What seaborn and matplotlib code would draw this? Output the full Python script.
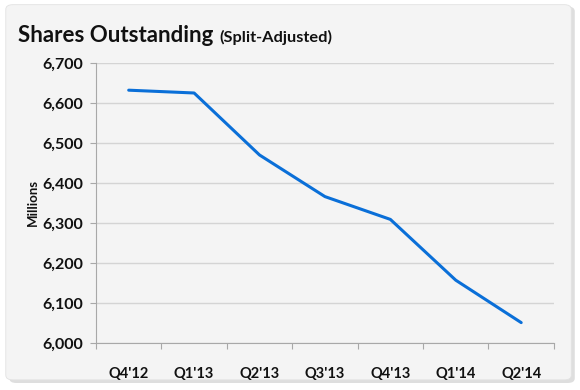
import matplotlib
matplotlib.use('Agg')
import matplotlib.pyplot as plt
from matplotlib.patches import FancyBboxPatch
from matplotlib.ticker import FuncFormatter, FixedLocator
import seaborn as sns
import pandas as pd

# ─── DATA ─────────────────────────────────────────────────────────────────────
quarters = ["Q4'12", "Q1'13", "Q2'13", "Q3'13", "Q4'13", "Q1'14", "Q2'14"]
shares_mm = [6632, 6625, 6470, 6366, 6309, 6157, 6051]
y_ticks = [6000, 6100, 6200, 6300, 6400, 6500, 6600, 6700]

df = pd.DataFrame({'quarter': quarters, 'shares': shares_mm})

# ─── STYLE ────────────────────────────────────────────────────────────────────
sns.set_style('white')
plt.rcParams['font.family'] = ['Lato', 'DejaVu Sans']
LINE_BLUE = '#0a6fd8'
GRID = '#d4d4d4'
PANEL = '#f4f4f4'
AXIS_GREY = '#a8a8a8'

fig = plt.figure(figsize=(5.8, 3.9), dpi=100)
fig.patch.set_facecolor('white')

# rounded panel with a soft shadow
shadow = FancyBboxPatch((0.016, 0.018), 0.975, 0.965,
                        boxstyle='round,pad=0,rounding_size=0.012',
                        transform=fig.transFigure, facecolor='#c8c8c8',
                        edgecolor='none', alpha=0.6, zorder=0)
panel = FancyBboxPatch((0.01, 0.026), 0.975, 0.962,
                       boxstyle='round,pad=0,rounding_size=0.012',
                       transform=fig.transFigure, facecolor=PANEL,
                       edgecolor='#e2e2e2', linewidth=0.6, zorder=1)
fig.patches.extend([shadow, panel])

ax = fig.add_axes([0.1655, 0.1205, 0.7895, 0.718])
ax.set_facecolor('none')
ax.set_zorder(2)

sns.lineplot(data=df, x='quarter', y='shares', color=LINE_BLUE,
             linewidth=2.2, sort=False, ax=ax)

ax.set_xlim(-0.5, len(quarters) - 0.5)
ax.set_ylim(y_ticks[0], y_ticks[-1])
ax.set_yticks(y_ticks)
ax.yaxis.set_major_formatter(FuncFormatter(lambda v, _: f'{int(v):,}'))
ax.grid(axis='y', color=GRID, linewidth=1.0)
ax.set_axisbelow(True)

# Excel-style ticks: labels centred, tick marks on category boundaries
ax.set_xticks(range(len(quarters)))
ax.set_xticklabels(quarters)
ax.xaxis.set_minor_locator(FixedLocator([i - 0.5 for i in range(len(quarters) + 1)]))
ax.tick_params(axis='x', which='major', length=0, pad=17,
               labelsize=10.5, colors='#111111')
ax.tick_params(axis='x', which='minor', length=4, width=0.8, color=AXIS_GREY,
               direction='out', bottom=True)
ax.tick_params(axis='y', which='major', length=4, width=0.8, color=AXIS_GREY,
               direction='out', left=True, pad=5.5, labelsize=11.5,
               labelcolor='#111111')
for lab in ax.get_xticklabels() + ax.get_yticklabels():
    lab.set_fontweight('bold')

for side in ['top', 'right']:
    ax.spines[side].set_visible(False)
for side in ['left', 'bottom']:
    ax.spines[side].set_color(AXIS_GREY)
    ax.spines[side].set_linewidth(0.8)

ax.set_xlabel('')
ax.set_ylabel('Millions', fontsize=9.5, fontweight='bold', color='#111111',
              labelpad=2.5)

fig.text(0.031, 0.893, 'Shares Outstanding', fontsize=16, fontweight='bold',
         color='#111111', zorder=3)
fig.text(0.378, 0.893, '(Split-Adjusted)', fontsize=11.8, fontweight='bold',
         color='#111111', zorder=3)

fig.savefig('out.png', dpi=100)
